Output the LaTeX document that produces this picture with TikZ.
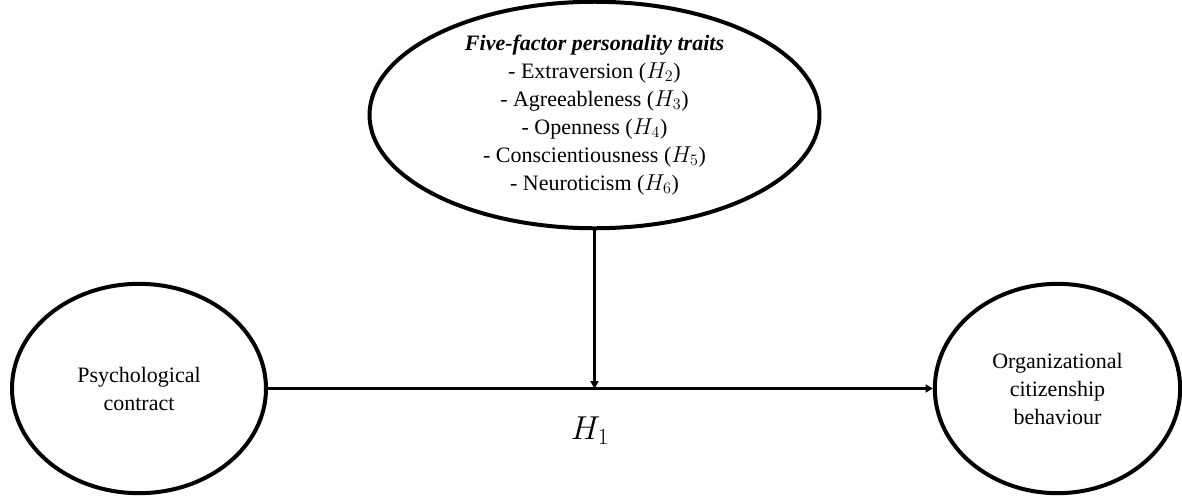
\documentclass[tikz,border=0pt]{standalone}
\usepackage{amsmath}
\usepackage{fontspec}
\setmainfont{Liberation Serif}
\usepackage{tikz}
\usetikzlibrary{shapes.geometric, arrows.meta, positioning, calc}

\begin{document}
\begin{tikzpicture}[
    x=0.75pt, y=-0.75pt,
    oval/.style={ellipse, draw, line width=3pt, inner sep=0pt, align=center,
        font=\fontsize{16.5}{21}\selectfont},
    arrow/.style={-{Triangle[length=5.5pt, width=6pt]}, line width=1.6pt},
]

\useasboundingbox (0,0) rectangle (1182,497);

\node[oval, minimum width=337.5pt, minimum height=157.5pt] (fft) at (594.5,115)
    {\textbf{\textit{Five-factor personality traits}}\\
     - Extraversion ($H_2$)\\
     - Agreeableness ($H_3$)\\
     - Openness ($H_4$)\\
     - Conscientiousness ($H_5$)\\
     - Neuroticism ($H_6$)};
\node[oval, minimum width=190.5pt, minimum height=157pt] (pc) at (139,388.5)
    {Psychological\\contract};
\node[oval, minimum width=184pt, minimum height=157pt] (ocb) at (1057.5,388.5)
    {Organizational\\citizenship\\behaviour};
\node[font=\fontsize{24}{28}\selectfont] (h1) at (590,431) {$H_1$};

\draw[arrow] (pc.east) -- (ocb.west);
\draw[arrow] (fft.south) -- (fft.south |- pc.east);

\end{tikzpicture}
\end{document}
